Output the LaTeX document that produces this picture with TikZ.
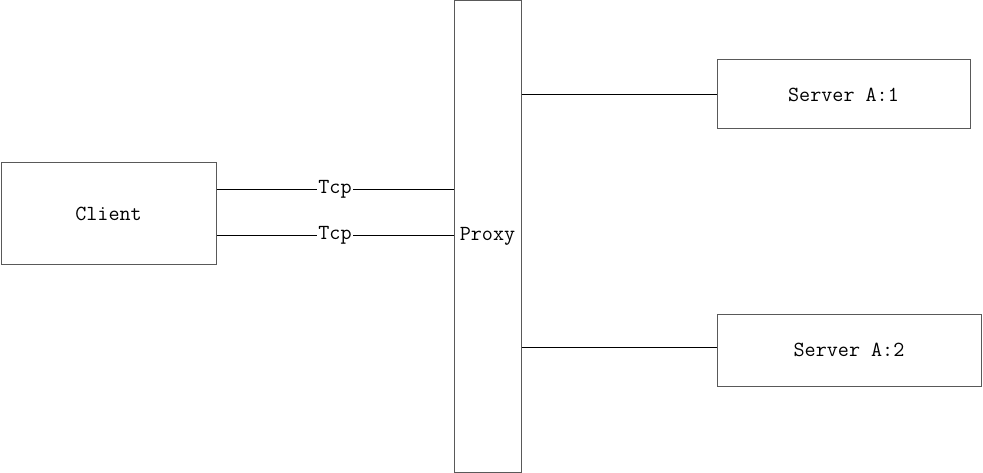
\documentclass[tikz,border=0pt]{standalone}
\usepackage{tikz}
\usetikzlibrary{calc}

\begin{document}
\begin{tikzpicture}[x=1pt,y=-1pt,
  font=\ttfamily\fontsize{21.5}{24}\selectfont,
  box/.style={draw=black!65,line width=1pt,inner sep=0pt},
  link/.style={draw=black,line width=0.9pt},
  tcp/.style={fill=white,inner sep=1pt}]
\useasboundingbox (0,0) rectangle (983,473);
\node[box,minimum width=215pt,minimum height=102pt] (client) at (108.5,214) {Client};
\node[box,minimum width=67pt,minimum height=471pt] (proxy) at (487.5,236.5) {Proxy};
\node[box,minimum width=253pt,minimum height=69pt] (srvA) at (843.5,94.5) {Server A:1};
\node[box,minimum width=264pt,minimum height=72pt] (srvB) at (849,350) {Server A:2};

\draw[link] ([yshift=25pt]client.east) -- node[tcp] {Tcp} ([yshift=25pt]client.east -| proxy.west);
\draw[link] ([yshift=-21pt]client.east) -- node[tcp] {Tcp} ([yshift=-21pt]client.east -| proxy.west);
\draw[link] (proxy.east |- srvA.west) -- (srvA.west);
\draw[link] ([yshift=3pt]proxy.east |- srvB.west) -- ([yshift=3pt]srvB.west);
\end{tikzpicture}
\end{document}
